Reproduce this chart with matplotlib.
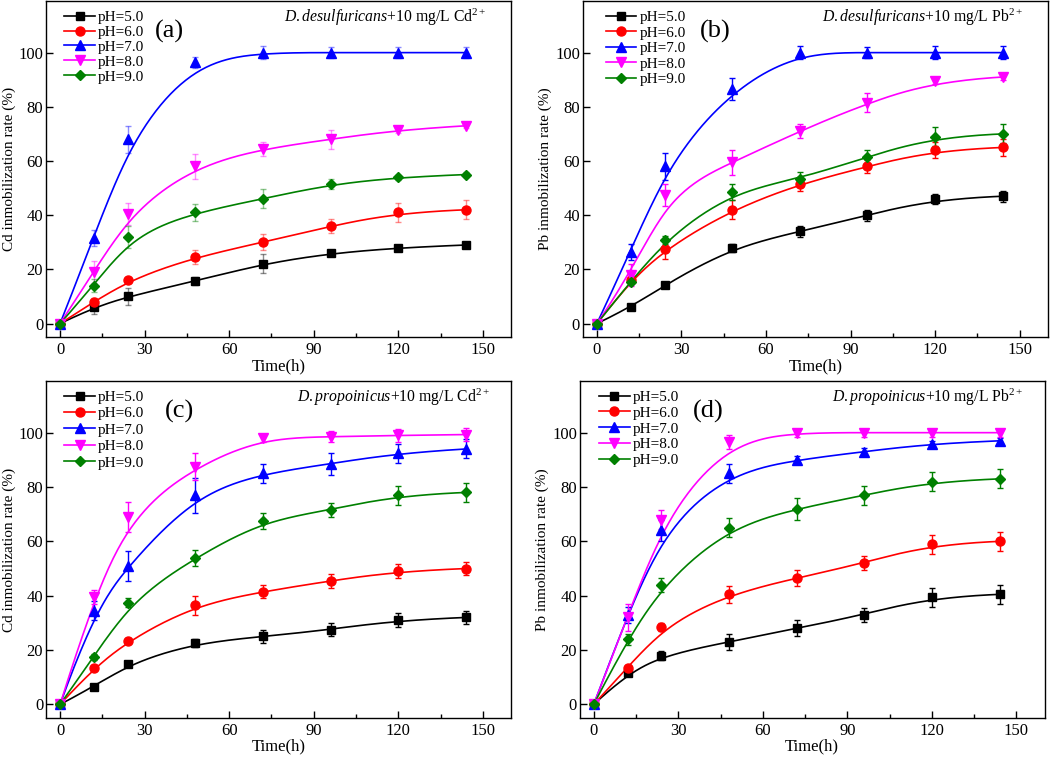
"""
Immobilization rate of Cd / Pb by two SRB strains at different pH.
Four panels, B-spline connected lines as in the original Origin figure.
"""

import numpy as np
import matplotlib
matplotlib.use('Agg')
import matplotlib.pyplot as plt
from matplotlib.ticker import MultipleLocator


# Data
time_h = [0, 12, 24, 48, 72, 96, 120, 144]
ph_labels = ['pH=5.0', 'pH=6.0', 'pH=7.0', 'pH=8.0', 'pH=9.0']

# (a) D.desulfuricans + Cd
a_vals = [
    [0, 6, 10, 15.7, 22, 26, 28, 29],
    [0, 8, 16, 24.5, 30, 36, 41, 42],
    [0, 31.5, 68, 96.5, 100, 100, 100, 100],
    [0, 19, 40.5, 58, 64.5, 68, 71.5, 73],
    [0, 14, 32, 41, 46, 51.5, 54, 55],
]
a_err = [
    [0, 2.5, 3, 1.5, 3.5, 1, 1, 1],
    [0, 1.5, 1, 2.5, 3, 2.5, 3.5, 3.5],
    [0, 3, 5, 2, 2.5, 2, 2, 2],
    [0, 4, 4, 4.5, 2.5, 3.5, 1, 1],
    [0, 2.5, 4, 3, 3.5, 2, 1, 1],
]

# (b) D.desulfuricans + Pb
b_vals = [
    [0, 6, 14.3, 28, 34, 40, 46, 47],
    [0, 16, 27.5, 42, 51.5, 58, 64, 65],
    [0, 26.5, 58, 86.5, 100, 100, 100, 100],
    [0, 18, 47.5, 59.5, 71, 81.5, 89.5, 91],
    [0, 15.5, 31, 48.5, 53.5, 61.5, 69, 70],
]
b_err = [
    [0, 0.5, 0.7, 1.5, 2, 2, 2, 2],
    [0, 1, 3.5, 3.5, 2.5, 2.5, 3, 3],
    [0, 3, 5, 4, 2.5, 2, 2.5, 2.5],
    [0, 4, 4, 4.5, 2.5, 3.5, 1, 1],
    [0, 1, 1.5, 3, 2.5, 2.5, 3.5, 3.5],
]

# (c) D.propoinicus + Cd
c_vals = [
    [0, 6.5, 15, 22.5, 25, 27.5, 31, 32],
    [0, 13.5, 23.5, 36.5, 41.5, 45.5, 49, 50],
    [0, 34.5, 51, 77, 85, 88.5, 92.5, 94],
    [0, 39.5, 69, 87.5, 98, 98.5, 99, 99.3],
    [0, 17.5, 37.5, 54, 67.5, 71.5, 77, 78],
]
c_err = [
    [0, 0.5, 1, 1.5, 2.5, 2.5, 2.5, 2.5],
    [0, 1, 1, 3.5, 2.5, 2.5, 2.5, 2.5],
    [0, 3.5, 5.5, 6.5, 3.5, 4, 3.5, 3.5],
    [0, 2.5, 5.5, 5, 1.5, 2, 2.5, 2.5],
    [0, 1, 1.5, 3, 3, 2.5, 3.5, 3.5],
]

# (d) D.propoinicus + Pb
d_vals = [
    [0, 11.5, 18, 23, 28, 33, 39.5, 40.5],
    [0, 13.5, 28.5, 40.5, 46.5, 52, 59, 60],
    [0, 33, 64, 85, 90, 93, 96, 97],
    [0, 32, 68, 96.5, 100, 100, 100, 100],
    [0, 24, 44, 65, 72, 77, 82, 83],
]
d_err = [
    [0, 1, 1.5, 3, 3, 2.5, 3.5, 3.5],
    [0, 1, 1.5, 3, 3, 2.5, 3.5, 3.5],
    [0, 3, 4, 3.5, 1.5, 1.5, 1, 1],
    [0, 5, 3.5, 2.5, 1.5, 1.5, 1.5, 1.5],
    [0, 2, 2.5, 3.5, 4, 3.5, 3.5, 3.5],
]

colors = ['#000000', '#FF0000', '#0000FF', '#FF00FF', '#008000']
markers = ['s', 'o', '^', 'v', 'D']
msizes = [6, 6.5, 6.5, 6.5, 5]


def bspline(px, py, n_out=200, k=3):
    """Clamped uniform B-spline using the data points as control points."""
    px = np.asarray(px, float)
    py = np.asarray(py, float)
    n = len(px)
    inner = np.linspace(0, 1, n - k + 1)
    knots = np.concatenate([np.zeros(k), inner, np.ones(k)])
    t = np.linspace(0, 1, n_out)
    t[-1] -= 1e-10
    # Cox-de Boor
    B = np.zeros((n_out, len(knots) - 1))
    for i in range(len(knots) - 1):
        B[:, i] = np.where((t >= knots[i]) & (t < knots[i + 1]), 1.0, 0.0)
    for d in range(1, k + 1):
        Bn = np.zeros((n_out, len(knots) - 1 - d))
        for i in range(len(knots) - 1 - d):
            left = 0.0
            den1 = knots[i + d] - knots[i]
            if den1 > 0:
                left = (t - knots[i]) / den1 * B[:, i]
            right = 0.0
            den2 = knots[i + d + 1] - knots[i + 1]
            if den2 > 0:
                right = (knots[i + d + 1] - t) / den2 * B[:, i + 1]
            Bn[:, i] = left + right
        B = Bn
    return B @ px, B @ py


def draw_panel(ax, vals, errs, ylabel, tag, note, ion, layout, err_alpha=1.0):
    leg_x, lspace, tag_x, tag_y, note_x = layout
    for i in range(5):
        sx, sy = bspline(time_h, vals[i])
        ax.plot(sx, sy, color=colors[i], lw=1.2, zorder=2)
        ax.errorbar(time_h, vals[i], yerr=errs[i], fmt='none', ecolor=colors[i],
                    elinewidth=1.0, capsize=2.5, capthick=1.0, alpha=err_alpha, zorder=3)
        ax.plot(time_h, vals[i], linestyle='none', marker=markers[i], ms=msizes[i],
                color=colors[i], zorder=4)
        # proxy for the legend (line + marker)
        ax.plot([], [], color=colors[i], lw=1.2, marker=markers[i], ms=msizes[i],
                label=ph_labels[i])

    ax.set_xlim(-5, 160)
    ax.set_ylim(-5, 119)
    ax.xaxis.set_major_locator(MultipleLocator(30))
    ax.xaxis.set_minor_locator(MultipleLocator(15))
    ax.yaxis.set_major_locator(MultipleLocator(20))
    ax.tick_params(which='both', direction='in', top=False, right=False,
                   labelsize=12)
    ax.tick_params(which='major', length=5, width=1)
    ax.tick_params(which='minor', length=3, width=1)
    ax.tick_params(axis='y', which='minor', left=False)
    ax.tick_params(axis='y', pad=2)
    for sp in ax.spines.values():
        sp.set_linewidth(1.0)

    ax.set_xlabel('Time(h)', fontsize=12, labelpad=0)
    ax.set_ylabel(ylabel, fontsize=11, labelpad=2)

    ax.legend(loc='upper left', bbox_to_anchor=(leg_x, 1.0), frameon=False,
              fontsize=11, handlelength=2.0, handletextpad=0.2,
              labelspacing=lspace, borderaxespad=0.2)
    ax.text(tag_x, tag_y, tag, transform=ax.transAxes, fontsize=19,
            ha='center', va='center')
    ax.text(note_x, 0.952, '$\\it{' + note + '}$' + '+10 mg/L ' + ion + '$^{2+}$',
            transform=ax.transAxes, fontsize=11.3, ha='right', va='center')


plt.rcParams['font.family'] = ['Liberation Serif', 'DejaVu Serif']
plt.rcParams['mathtext.fontset'] = 'custom'
plt.rcParams['mathtext.rm'] = 'Liberation Serif'
plt.rcParams['mathtext.it'] = 'Liberation Serif:italic'

fig = plt.figure(figsize=(10.52, 7.61), dpi=100)
ax_a = fig.add_axes([0.0437, 0.557, 0.442, 0.4415])
ax_b = fig.add_axes([0.554, 0.557, 0.442, 0.4415])
ax_c = fig.add_axes([0.0437, 0.0565, 0.442, 0.4428])
ax_d = fig.add_axes([0.551, 0.0565, 0.442, 0.4428])

draw_panel(ax_a, a_vals, a_err, 'Cd inmobilization rate (%)', '(a)',
           'D.desulfuricans', 'Cd', (0.02, 0.08, 0.265, 0.91, 0.948), err_alpha=0.45)
draw_panel(ax_b, b_vals, b_err, 'Pb inmobilization rate (%)', '(b)',
           'D.desulfuricans', 'Pb', (0.03, 0.12, 0.284, 0.91, 0.946))
draw_panel(ax_c, c_vals, c_err, 'Cd inmobilization rate (%)', '(c)',
           'D.propoinicus', 'Cd', (0.02, 0.18, 0.288, 0.91, 0.955))
draw_panel(ax_d, d_vals, d_err, 'Pb inmobilization rate (%)', '(d)',
           'D.propoinicus', 'Pb', (0.022, 0.14, 0.277, 0.91, 0.953))

fig.savefig('out.png', dpi=100)
